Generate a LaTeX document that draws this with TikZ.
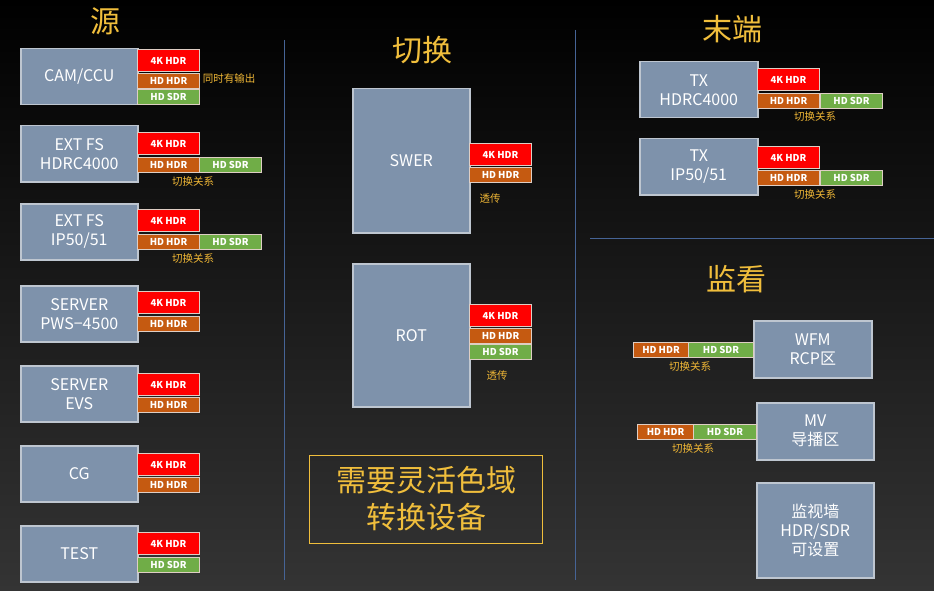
\documentclass[tikz,border=0pt]{standalone}
\usepackage{fontspec}
\setmainfont{Noto Sans CJK SC}
\definecolor{devfill}{RGB}{126,146,171}
\definecolor{devline}{RGB}{190,198,208}
\definecolor{lblline}{RGB}{222,206,196}
\definecolor{hdrfill}{RGB}{197,90,17}
\definecolor{sdrfill}{RGB}{112,173,71}
\definecolor{yeltxt}{RGB}{240,190,60}
\definecolor{sepline}{RGB}{70,100,150}
\tikzset{
  dev/.style={rectangle, draw=devline, fill=devfill, line width=1.5pt, text=white, align=center, inner sep=0pt, anchor=north west, font=\fontsize{16}{19}\selectfont},
  lbl/.style={rectangle, draw=lblline, line width=1pt, text=white, inner sep=0pt, anchor=north west, minimum width=62pt, minimum height=15pt, font=\bfseries\fontsize{9.5}{11}\selectfont},
  k4/.style={lbl, fill=red, minimum height=22pt},
  hdr/.style={lbl, fill=hdrfill},
  sdr/.style={lbl, fill=sdrfill},
  note/.style={text=yeltxt!90!orange, font=\fontsize{10.5}{12}\selectfont},
  ttl/.style={text=yeltxt, font=\fontsize{30}{36}\selectfont}
}
\begin{document}
\begin{tikzpicture}[x=1pt, y=-1pt]
\useasboundingbox (0,0) rectangle (934,591);
\shade[top color=black, middle color={rgb,255:red,14;green,14;blue,14}, bottom color={rgb,255:red,52;green,52;blue,52}] (0,0) rectangle (934,591);
\draw[sepline, line width=1pt] (284,40) -- (284,580);
\draw[sepline, line width=1pt] (575,30) -- (575,580);
\draw[sepline, line width=1pt] (590,238) -- (934,238);
\node[ttl] (tsrc) at (105,21) {源};
\node[ttl] (tsw) at (422,50) {切换};
\node[ttl] (tend) at (732,29) {末端};
\node[ttl] (tmon) at (736,279) {监看};
\node[dev, minimum width=117pt, minimum height=56pt] (cam) at (20,48) {CAM/CCU};
\node[k4] (cam4k) at (137,49) {4K HDR};
\node[hdr] (camhdr) at (137,73) {HD HDR};
\node[sdr] (camsdr) at (137,89) {HD SDR};
\node[note] (camnote) at (229,79) {同时有输出};
\node[dev, minimum width=117pt, minimum height=56pt] (fsa) at (20,125) {EXT FS\\HDRC4000};
\node[k4] (fsa4k) at (137,132) {4K HDR};
\node[hdr] (fsahdr) at (137,157) {HD HDR};
\node[sdr] (fsasdr) at (199,157) {HD SDR};
\node[note] (fsanote) at (193,182) {切换关系};
\node[dev, minimum width=117pt, minimum height=56pt] (fsb) at (20,203) {EXT FS\\IP50/51};
\node[k4] (fsb4k) at (137,209) {4K HDR};
\node[hdr] (fsbhdr) at (137,234) {HD HDR};
\node[sdr] (fsbsdr) at (199,234) {HD SDR};
\node[note] (fsbnote) at (193,259) {切换关系};
\node[dev, minimum width=117pt, minimum height=56pt] (pws) at (20,285) {SERVER\\PWS−4500};
\node[k4] (pws4k) at (137,291) {4K HDR};
\node[hdr] (pwshdr) at (137,316) {HD HDR};
\node[dev, minimum width=117pt, minimum height=56pt] (evs) at (20,365) {SERVER\\EVS};
\node[k4] (evs4k) at (137,373) {4K HDR};
\node[hdr] (evshdr) at (137,397) {HD HDR};
\node[dev, minimum width=117pt, minimum height=56pt] (cg) at (20,445) {CG};
\node[k4] (cg4k) at (137,453) {4K HDR};
\node[hdr] (cghdr) at (137,477) {HD HDR};
\node[dev, minimum width=117pt, minimum height=56pt] (test) at (20,525) {TEST};
\node[k4] (test4k) at (137,532) {4K HDR};
\node[sdr] (testsdr) at (137,557) {HD SDR};
\node[dev, minimum width=117pt, minimum height=144pt] (swer) at (352,88) {SWER};
\node[k4] (swer4k) at (469,143) {4K HDR};
\node[hdr] (swerhdr) at (469,167) {HD HDR};
\node[note] (swernote) at (490,199) {透传};
\node[dev, minimum width=117pt, minimum height=143pt] (rot) at (352,263) {ROT};
\node[k4] (rot4k) at (469,304) {4K HDR};
\node[hdr] (rothdr) at (469,328) {HD HDR};
\node[sdr] (rotsdr) at (469,344) {HD SDR};
\node[note] (rotnote) at (497,376) {透传};
\node[draw=yeltxt, line width=1pt, text=yeltxt, align=center, minimum width=233pt, minimum height=88pt, inner sep=0pt, font=\fontsize{30}{37}\selectfont] (gamut) at (426,499) {需要灵活色域\\转换设备};
\node[dev, minimum width=118pt, minimum height=56pt] (txa) at (639,61) {TX\\HDRC4000};
\node[k4] (txa4k) at (757,68) {4K HDR};
\node[hdr] (txahdr) at (757,93) {HD HDR};
\node[sdr] (txasdr) at (820,93) {HD SDR};
\node[note] (txanote) at (815,117) {切换关系};
\node[dev, minimum width=118pt, minimum height=56pt] (txb) at (639,138) {TX\\IP50/51};
\node[k4] (txb4k) at (757,146) {4K HDR};
\node[hdr] (txbhdr) at (757,170) {HD HDR};
\node[sdr] (txbsdr) at (820,170) {HD SDR};
\node[note] (txbnote) at (815,195) {切换关系};
\node[dev, minimum width=118pt, minimum height=57pt] (wfm) at (753,320) {WFM\\RCP区};
\node[hdr, minimum width=55pt] (wfmhdr) at (633,342) {HD HDR};
\node[sdr, minimum width=65pt] (wfmsdr) at (688,342) {HD SDR};
\node[note] (wfmnote) at (690,367) {切换关系};
\node[dev, minimum width=117pt, minimum height=57pt] (mv) at (756,402) {MV\\导播区};
\node[hdr, minimum width=56pt] (mvhdr) at (637,424) {HD HDR};
\node[sdr, minimum width=63pt] (mvsdr) at (693,424) {HD SDR};
\node[note] (mvnote) at (693,449) {切换关系};
\node[dev, minimum width=117pt, minimum height=95pt] (wall) at (756,482) {监视墙\\HDR/SDR\\可设置};
\end{tikzpicture}
\end{document}
